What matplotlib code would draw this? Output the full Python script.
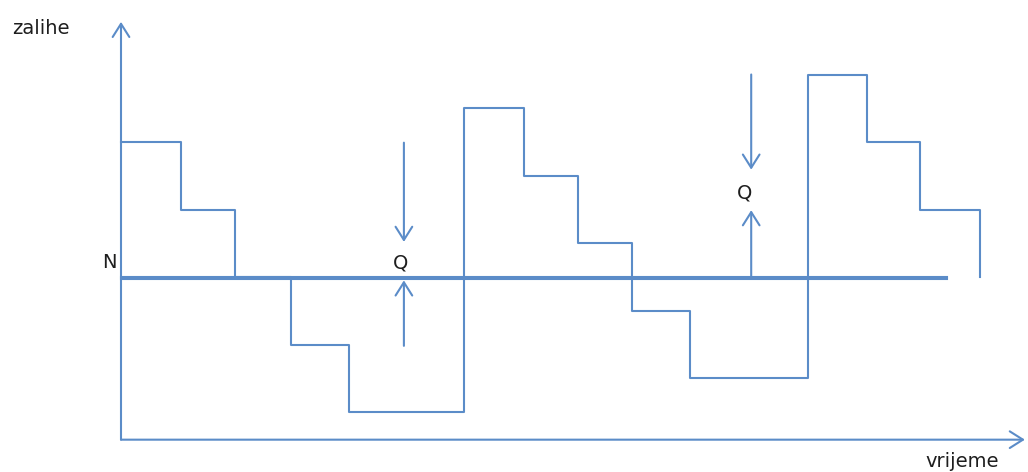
import matplotlib.pyplot as plt

# stock level steps (time in order periods, level relative to N)
t_breaks = [0, 1.04, 1.98, 2.96, 3.96, 5.96, 7.0, 7.95, 8.89, 9.9, 11.94, 12.97, 13.9, 14.94]
levels = [2, 1, 0, -1, -2, 2.5, 1.5, 0.5, -0.5, -1.5, 3, 2, 1, 0]

n_level = 0
n_end = 14.37

# Q markers: x position, down-arrow start/end, up-arrow start/end, label pos
q_x = [4.92, 10.96]
q_down = [(1.99, 0.52), (3.0, 1.59)]
q_up = [(-1.02, -0.05), (0.0, 0.99)]
q_label = [(4.87, 0.13), (10.84, 1.16)]

blue = '#5b8cc8'
ink = '#1e1e1e'
lw = 1.5
plt.rcParams['font.family'] = ['DejaVu Sans']

fig = plt.figure(figsize=(10.28, 4.72), dpi=100)
ax = fig.add_axes([0, 0, 1, 1])
ax.set_xlim(-121 / 57.5, (1028 - 121) / 57.5)
ax.set_ylim((277 - 472) / 67.5, 277 / 67.5)
ax.axis('off')

# axes arrows
arrow = dict(arrowstyle='->,head_length=0.95,head_width=0.6', color=blue, lw=lw,
             shrinkA=0, shrinkB=0)
ax.annotate('', xy=(0, 3.78), xytext=(0, -2.41), arrowprops=arrow)
ax.annotate('', xy=(15.72, -2.41), xytext=(0, -2.41), arrowprops=arrow)

# N line (double)
ax.plot([0, n_end], [n_level, n_level], color=blue, lw=lw)
ax.plot([0, n_end], [n_level - 0.03, n_level - 0.03], color=blue, lw=lw)

# stock steps
ax.step(t_breaks, levels, where='post', color=blue, lw=lw)

# Q arrows
for x, (d0, d1), (u0, u1), (lx, ly) in zip(q_x, q_down, q_up, q_label):
    ax.annotate('', xy=(x, d1), xytext=(x, d0), arrowprops=arrow)
    ax.annotate('', xy=(x, u1), xytext=(x, u0), arrowprops=arrow)
    ax.text(lx, ly, 'Q', fontsize=14, ha='center', va='baseline', color=ink)

ax.text(-1.896, 3.6, 'zalihe', fontsize=14, ha='left', va='baseline', color=ink)
ax.text(-0.2, 0.13, 'N', fontsize=14, ha='center', va='baseline', color=ink)
ax.text(14.63, -2.815, 'vrijeme', fontsize=14, ha='center', va='baseline', color=ink)

fig.savefig('out.png', dpi=100)
